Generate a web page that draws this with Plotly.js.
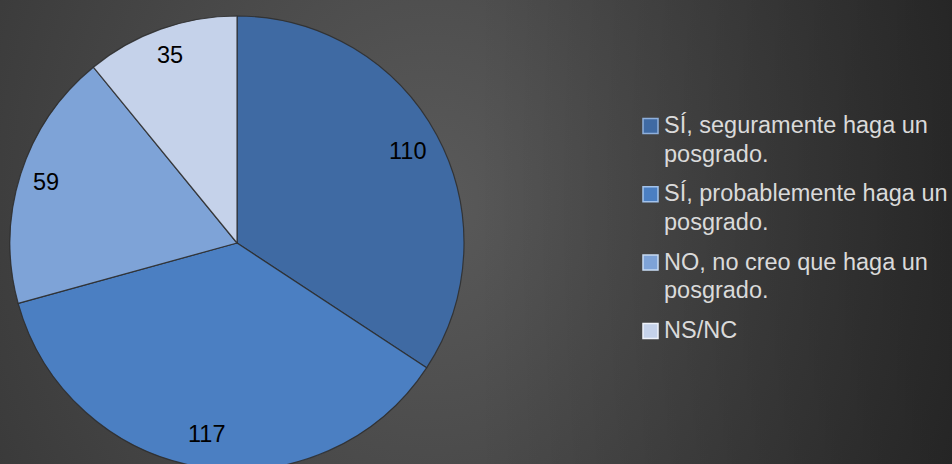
<!DOCTYPE html>
<html>
<head>
<meta charset="utf-8">
<script src="https://cdn.plot.ly/plotly-3.0.1.min.js"></script>
<style>
  html, body { margin: 0; padding: 0; overflow: hidden; background: #333; }
  #wrap {
    width: 952px; height: 464px; overflow: hidden; position: relative;
    background:
      linear-gradient(to right, rgba(0,0,0,0) 50%, rgba(0,0,0,0.3) 100%),
      radial-gradient(ellipse 600px 700px at 430px 200px, #5a5a5a 0%, #333333 100%);
  }
  #chart { width: 952px; height: 480px; }
</style>
</head>
<body>
<div id="wrap"><div id="chart"></div></div>
<script>
// ---- data ----
const categories = [
  'SÍ, seguramente haga un posgrado.',
  'SÍ, probablemente haga un posgrado.',
  'NO, no creo que haga un posgrado.',
  'NS/NC'
];
const values = [110, 117, 59, 35];
const sliceColors = ['#3f6aa3', '#4b7fc2', '#7ea3d7', '#c5d2ea'];
const markerEdge = ['#8fb0dc', '#a3c3ec', '#c8dbf4', '#eef2fa'];

// ---- helpers ----
function wrapLines(text, maxChars) {
  const words = text.split(' ');
  const lines = [];
  let cur = '';
  words.forEach(w => {
    const next = cur ? cur + ' ' + w : w;
    if (next.length > maxChars && cur) { lines.push(cur); cur = w; }
    else cur = next;
  });
  if (cur) lines.push(cur);
  return lines;
}

const W = 952, H = 480;
const FONT = 'Arial, "Liberation Sans", sans-serif';
const FS = 23.5;
const pieLeft = 10, pieRight = 464, pieTop = 16, pieBottom = 470;
const dom = {
  x: [pieLeft / W, pieRight / W],
  y: [1 - pieBottom / H, 1 - pieTop / H]
};
const toPX = x => x / W;
const toPY = y => 1 - y / H;

const trace = {
  type: 'pie',
  labels: categories,
  values: values,
  sort: false,
  direction: 'clockwise',
  rotation: 0,
  textinfo: 'none',
  hoverinfo: 'label+value',
  marker: { colors: sliceColors, line: { color: 'rgba(45,45,45,0.85)', width: 1.2 } },
  domain: dom,
  showlegend: false
};

// value labels placed just inside the outer edge of each slice
const cx = (pieLeft + pieRight) / 2, cy = (pieTop + pieBottom) / 2;
const R = Math.min(pieRight - pieLeft, pieBottom - pieTop) / 2;
const total = values.reduce((a, b) => a + b, 0);
let cum = 0;
const annotations = values.map(v => {
  const mid = (cum + v / 2) / total * 2 * Math.PI;
  cum += v;
  const halfW = 0.5 * String(v).length * 0.556 * FS;
  const rl = R - (halfW + 14);
  const px = cx + rl * Math.sin(mid);
  const py = cy - rl * Math.cos(mid);
  return {
    xref: 'paper', yref: 'paper', x: toPX(px), y: toPY(py),
    text: String(v), showarrow: false, xanchor: 'center', yanchor: 'middle',
    font: { family: FONT, size: FS, color: '#000000' }
  };
});

// legend (drawn as text + square keys)
const legTop = 125, itemStep = 68.3, lineStep = 28.5;
const keyLeft = 643, keySize = 15, textLeft = 662;
const shapes = [];
categories.forEach((c, i) => {
  const y0 = legTop + i * itemStep;
  shapes.push({
    type: 'rect', xref: 'paper', yref: 'paper',
    x0: toPX(keyLeft), x1: toPX(keyLeft + keySize),
    y0: toPY(y0 + 1 - keySize / 2), y1: toPY(y0 + 1 + keySize / 2),
    fillcolor: sliceColors[i], line: { color: markerEdge[i], width: 1.5 }
  });
  wrapLines(c, 25).forEach((ln, j) => {
    annotations.push({
      xref: 'paper', yref: 'paper', x: toPX(textLeft), y: toPY(y0 + j * lineStep),
      text: ln, showarrow: false, xanchor: 'left', yanchor: 'middle',
      font: { family: FONT, size: FS, color: '#dadada' }
    });
  });
});

const layout = {
  width: W, height: H,
  margin: { l: 0, r: 0, t: 0, b: 0 },
  paper_bgcolor: 'rgba(0,0,0,0)',
  plot_bgcolor: 'rgba(0,0,0,0)',
  showlegend: false,
  annotations: annotations,
  shapes: shapes
};

Plotly.newPlot('chart', [trace], layout, { displayModeBar: false, staticPlot: true });
</script>
</body>
</html>
